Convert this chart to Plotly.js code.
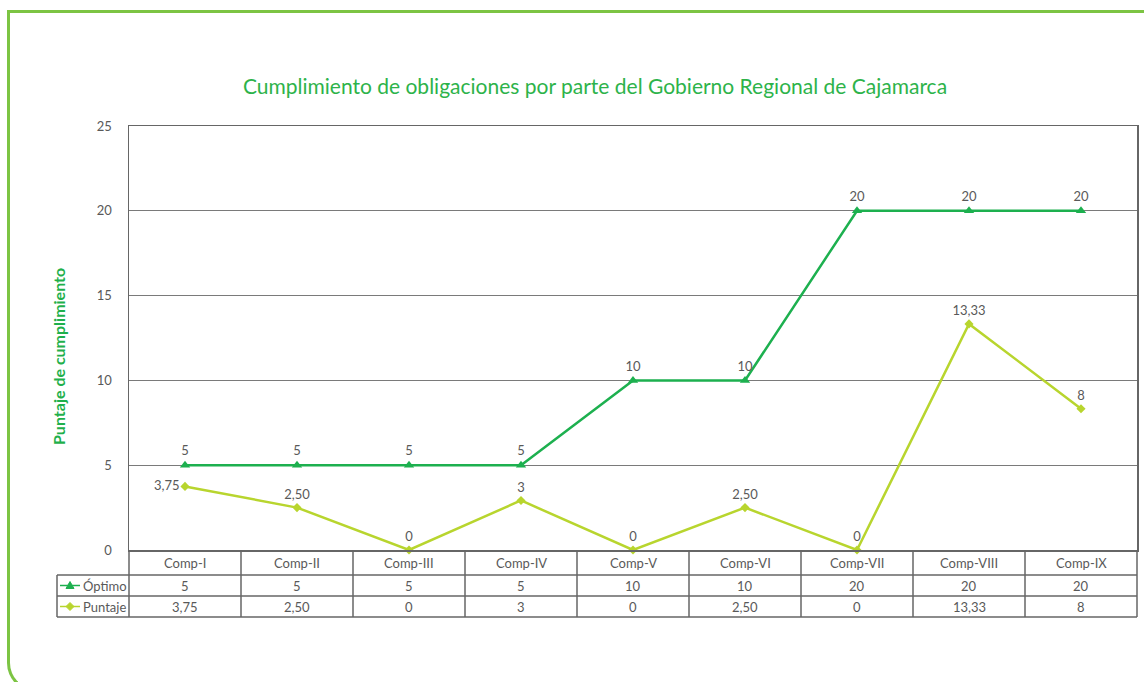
<!DOCTYPE html>
<html>
<head>
<meta charset="utf-8">
<script src="https://cdn.plot.ly/plotly-3.0.1.min.js"></script>
<style>
  html, body { margin: 0; padding: 0; background: #ffffff; }
  #wrap { position: relative; width: 1144px; height: 682px; overflow: hidden; }
  #chart { position: absolute; left: 0; top: 0; width: 1144px; height: 682px; }
  #frame { position: absolute; left: 7px; top: 10px; width: 1200px; height: 682px;
           border-left: 3px solid #7cc443; border-top: 3px solid #7cc443; border-bottom: 3px solid #7cc443;
           border-bottom-left-radius: 29px; pointer-events: none; box-sizing: border-box; }
</style>
</head>
<body>
<div id="wrap">
  <div id="chart"></div>
  <div id="frame"></div>
</div>
<script>
// ---- data ----
const categories = ['Comp-I', 'Comp-II', 'Comp-III', 'Comp-IV', 'Comp-V', 'Comp-VI', 'Comp-VII', 'Comp-VIII', 'Comp-IX'];
const optimo = [5, 5, 5, 5, 10, 10, 20, 20, 20];
const puntaje = [3.75, 2.5, 0, 2.92, 0, 2.5, 0, 13.33, 8.33];
const optimoLabels = ['5', '5', '5', '5', '10', '10', '20', '20', '20'];
const puntajeLabels = ['3,75', '2,50', '0', '3', '0', '2,50', '0', '13,33', '8'];
const seriesNames = ['Óptimo', 'Puntaje'];
const yTicks = [0, 5, 10, 15, 20, 25];

// ---- styles ----
const cOpt = '#1db04f';
const cPun = '#b8d52e';
const cText = '#595959';
const cLine = '#666666';
const fontFam = 'Lato, "Noto Sans", sans-serif';

const N = categories.length;
const xIdx = categories.map((_, i) => i);

const traces = [
  {
    x: xIdx, y: optimo, name: seriesNames[0], type: 'scatter', mode: 'lines+markers+text',
    line: { color: cOpt, width: 2.5 },
    marker: { symbol: 'triangle-up', size: 9, color: cOpt },
    text: optimoLabels, textposition: 'top center',
    textfont: { family: fontFam, size: 13, color: cText },
    cliponaxis: false, showlegend: false
  },
  {
    x: xIdx, y: puntaje, name: seriesNames[1], type: 'scatter', mode: 'lines+markers+text',
    line: { color: cPun, width: 2.5 },
    marker: { symbol: 'diamond', size: 7, color: cPun },
    text: puntajeLabels,
    textposition: puntajeLabels.map((_, i) => i === 0 ? 'middle left' : 'top center'),
    textfont: { family: fontFam, size: 13, color: cText },
    cliponaxis: false, showlegend: false
  }
];

// plot geometry (pixels) used to place the data table under the axis
const L = 129, R = 7, T = 126, B = 132, W = 1144, H = 682;
const plotW = W - L - R, plotH = H - T - B;
const px2x = p => (p - L) / plotW;         // pixel -> paper x
const px2y = p => (H - B - p) / plotH;     // pixel -> paper y
const colX = i => (i + 0.5) / N;           // category centre in paper x
const colEdge = i => i / N;                // category left edge in paper x

const rowH = [25, 21, 21];
const yHead0 = 0, yHead1 = -rowH[0] / plotH;
const yOpt1 = yHead1 - rowH[1] / plotH;
const yPun1 = yOpt1 - rowH[2] / plotH;
const leftX = px2x(57);

const shapes = [];
const annotations = [];
const ln = { color: cLine, width: 1.5 };
// horizontal table lines
shapes.push({ type: 'line', xref: 'paper', yref: 'paper', x0: leftX, x1: 1, y0: yHead1, y1: yHead1, line: ln });
shapes.push({ type: 'line', xref: 'paper', yref: 'paper', x0: leftX, x1: 1, y0: yOpt1, y1: yOpt1, line: ln });
shapes.push({ type: 'line', xref: 'paper', yref: 'paper', x0: leftX, x1: 1, y0: yPun1, y1: yPun1, line: ln });
// vertical table lines
for (let i = 0; i <= N; i++) {
  shapes.push({ type: 'line', xref: 'paper', yref: 'paper', x0: colEdge(i), x1: colEdge(i), y0: yHead0, y1: yPun1, line: ln });
}
shapes.push({ type: 'line', xref: 'paper', yref: 'paper', x0: leftX, x1: leftX, y0: yHead1, y1: yPun1, line: ln });

const cellFont = { family: fontFam, size: 13, color: cText };
categories.forEach((c, i) => {
  annotations.push({ xref: 'paper', yref: 'paper', x: colX(i), y: (yHead0 + yHead1) / 2, text: c, showarrow: false, font: cellFont, xanchor: 'center', yanchor: 'middle' });
  annotations.push({ xref: 'paper', yref: 'paper', x: colX(i), y: (yHead1 + yOpt1) / 2, text: optimoLabels[i], showarrow: false, font: cellFont, xanchor: 'center', yanchor: 'middle' });
  annotations.push({ xref: 'paper', yref: 'paper', x: colX(i), y: (yOpt1 + yPun1) / 2, text: puntajeLabels[i], showarrow: false, font: cellFont, xanchor: 'center', yanchor: 'middle' });
});

// legend keys in the table's first column
const keyRows = [
  { y: (yHead1 + yOpt1) / 2, color: cOpt, path: 'M-4,-3 L4,-3 L0,4 Z', name: seriesNames[0] },
  { y: (yOpt1 + yPun1) / 2, color: cPun, path: 'M0,4 L4,0 L0,-4 L-4,0 Z', name: seriesNames[1] }
];
keyRows.forEach(k => {
  shapes.push({ type: 'line', xref: 'paper', yref: 'paper', x0: px2x(60), x1: px2x(80), y0: k.y, y1: k.y, line: { color: k.color, width: 1.5 } });
  shapes.push({ type: 'path', xref: 'paper', yref: 'paper', xsizemode: 'pixel', ysizemode: 'pixel',
    xanchor: px2x(70), yanchor: k.y, path: k.path, fillcolor: k.color, line: { color: k.color, width: 1 } });
  annotations.push({ xref: 'paper', yref: 'paper', x: px2x(81), y: k.y, text: k.name, showarrow: false, xanchor: 'left', yanchor: 'middle', font: { family: fontFam, size: 13, color: cText } });
});

// y axis title
annotations.push({ xref: 'paper', yref: 'paper', x: px2x(58), y: px2y(357), text: '<b>Puntaje de cumplimiento</b>', textangle: -90, showarrow: false,
  xanchor: 'center', yanchor: 'middle', font: { family: fontFam, size: 16, color: '#1fb04b' } });

const layout = {
  width: W, height: H,
  margin: { l: L, r: R, t: T, b: B, pad: 0 },
  paper_bgcolor: 'rgba(0,0,0,0)',
  plot_bgcolor: '#ffffff',
  title: { text: 'Cumplimiento de obligaciones por parte del Gobierno Regional de Cajamarca',
    xref: 'container', yref: 'container', x: 595 / W, y: 1 - 87 / H, xanchor: 'center', yanchor: 'middle',
    font: { family: fontFam, size: 21, color: '#2db34a' } },
  xaxis: { range: [-0.5, N - 0.5], showgrid: false, zeroline: false, showticklabels: false, ticks: '',
    showline: true, mirror: true, linecolor: cLine, linewidth: 1.5, fixedrange: true },
  yaxis: { range: [0, 25], tickvals: yTicks, ticktext: yTicks.map(String), showgrid: true, gridcolor: '#7a7a7a', gridwidth: 1,
    zeroline: false, showline: true, mirror: true, linecolor: cLine, linewidth: 1.5,
    ticks: 'outside', ticklen: 13, tickcolor: 'rgba(0,0,0,0)',
    tickfont: { family: fontFam, size: 13, color: cText }, fixedrange: true },
  shapes: shapes,
  annotations: annotations,
  showlegend: false,
  font: { family: fontFam, color: cText }
};

Plotly.newPlot('chart', traces, layout, { displayModeBar: false, staticPlot: true });
</script>
</body>
</html>
